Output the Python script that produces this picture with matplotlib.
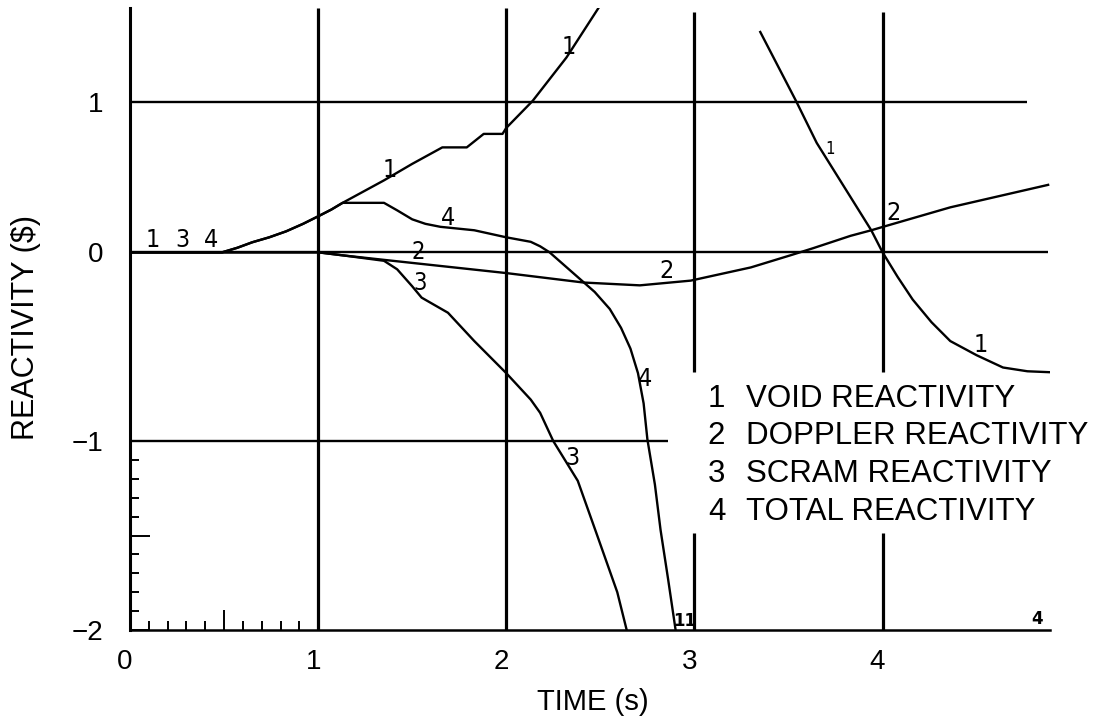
import numpy as np
import matplotlib
matplotlib.use("Agg")
import matplotlib.pyplot as plt
from matplotlib.transforms import ScaledTranslation

plt.rcParams['font.family'] = ['Liberation Sans', 'DejaVu Sans']

# curva 1: reactividad de vacio (dos tramos, sale por arriba y vuelve a entrar)
void_t1 = [0.0, 0.49, 0.57, 0.65, 0.74, 0.83, 0.92, 1.0, 1.07, 1.13, 1.35, 1.5, 1.66, 1.79, 1.88, 1.98, 2.0, 2.14, 2.32, 2.49]
void_r1 = [0.0, 0.0, 0.03, 0.067, 0.10, 0.14, 0.19, 0.24, 0.285, 0.33, 0.48, 0.59, 0.70, 0.70, 0.79, 0.79, 0.83, 1.01, 1.30, 1.63]
void_t2 = [3.35, 3.54, 3.65, 3.94, 4.0, 4.08, 4.16, 4.26, 4.36, 4.5, 4.64, 4.77, 4.89]
void_r2 = [1.47, 1.01, 0.73, 0.147, 0.0, -0.13, -0.25, -0.37, -0.47, -0.545, -0.61, -0.63, -0.635]

# curva 2: doppler
dop_t = [0.0, 1.0, 1.13, 1.35, 2.0, 2.41, 2.71, 2.98, 3.3, 3.51, 3.63, 3.83, 3.94, 4.03, 4.36, 4.88]
dop_r = [0.0, 0.0, -0.016, -0.04, -0.11, -0.16, -0.175, -0.15, -0.08, -0.016, 0.027, 0.11, 0.147, 0.18, 0.30, 0.45]

# curva 3: scram
scram_t = [0.0, 1.0, 1.13, 1.35, 1.42, 1.5, 1.55, 1.69, 1.83, 2.0, 2.13, 2.18, 2.25, 2.38, 2.48, 2.59, 2.64]
scram_r = [0.0, 0.0, -0.016, -0.045, -0.09, -0.18, -0.24, -0.32, -0.47, -0.64, -0.78, -0.85, -1.0, -1.21, -1.49, -1.80, -2.0]

# curva 4: total
tot_t = [0.0, 0.49, 0.57, 0.65, 0.74, 0.83, 0.92, 1.0, 1.07, 1.13, 1.35, 1.42, 1.5, 1.57, 1.65, 1.83, 2.0, 2.13,
         2.18, 2.23, 2.31, 2.39, 2.47, 2.55, 2.61, 2.66, 2.70, 2.73, 2.75, 2.79, 2.82, 2.86, 2.90]
tot_r = [0.0, 0.0, 0.03, 0.067, 0.10, 0.14, 0.19, 0.24, 0.285, 0.33, 0.33, 0.28, 0.22, 0.19, 0.17, 0.147, 0.10, 0.07,
         0.04, 0.0, -0.07, -0.14, -0.21, -0.30, -0.40, -0.51, -0.64, -0.80, -0.99, -1.23, -1.47, -1.73, -2.0]

# etiquetas sobre las curvas (texto, t, reactividad, tamano)
etiq_txt = ['1', '3', '4', '1', '1', '4', '2', '3', '2', '4', '3', '2', '1', '1']
etiq_t = [0.12, 0.28, 0.43, 1.38, 2.33, 1.69, 1.53, 1.54, 2.85, 2.74, 2.35, 4.06, 4.52, 3.72]
etiq_r = [0.08, 0.08, 0.08, 0.55, 1.37, 0.23, 0.0, -0.16, -0.10, -0.67, -1.09, 0.26, -0.49, 0.69]
etiq_fs = [18, 18, 18, 18, 18, 18, 17, 17, 18, 18, 18, 18, 18, 12]

# marcas pequenas junto al eje inferior
marca_txt = ['11', '4']
marca_t = [2.95, 4.82]
marca_r = [-1.95, -1.94]

leyenda_num = ['1', '2', '3', '4']
leyenda_txt = ['VOID REACTIVITY', 'DOPPLER REACTIVITY', 'SCRAM REACTIVITY', 'TOTAL REACTIVITY']

x_ticks = [0, 0.5, 1, 2, 3, 4]
x_labels = ['0', '', '1', '2', '3', '4']
y_ticks = [-2, -1.5, -1, 0, 1]
y_labels = ['\u22122', '', '\u22121', '0', '1']
x_minor = [0.1, 0.2, 0.3, 0.4, 0.6, 0.7, 0.8, 0.9]
y_minor = [-1.9, -1.8, -1.7, -1.6, -1.4, -1.3, -1.2, -1.1]

# la parte positiva del eje esta comprimida en el original
k = 150 / 189


def fwd(y):
    y = np.asarray(y, dtype=float)
    return np.where(y > 0, y * k, y)


def inv(v):
    v = np.asarray(v, dtype=float)
    return np.where(v > 0, v / k, v)


fig = plt.figure(figsize=(10.97, 7.24), dpi=100)
ax = fig.add_axes([130 / 1097, 1 - 630 / 724, 920 / 1097, 622 / 724])
ax.set_yscale('function', functions=(fwd, inv))
ax.set_xlim(0, 4.89)
ax.set_ylim(-2, 1.63)

# rejilla con cortes donde va la leyenda
ax.vlines([1, 2], -2, 1.63, color='k', lw=2.3)
ax.vlines([3, 4], -2, -1.487, color='k', lw=2.3)
ax.vlines([3, 4], -0.635, 1.6, color='k', lw=2.3)
ax.hlines(1, 0, 4.77, color='k', lw=1.7)
ax.hlines(0, 0, 4.88, color='k', lw=1.7)
ax.hlines(-1, 0, 2.86, color='k', lw=1.7)

estilo = dict(color='k', lw=1.7)
ax.plot(void_t1, void_r1, **estilo)
ax.plot(void_t2, void_r2, **estilo)
ax.plot(dop_t, dop_r, **estilo)
ax.plot(scram_t, scram_r, **estilo)
ax.plot(tot_t, tot_r, **estilo)

for txt, t, r, fs in zip(etiq_txt, etiq_t, etiq_r, etiq_fs):
    ax.text(t, r, txt, ha='center', va='center', fontsize=fs,
            family='DejaVu Sans', fontstretch='condensed')
for txt, t, r in zip(marca_txt, marca_t, marca_r):
    ax.text(t, r, txt, ha='center', va='center', fontsize=12,
            family='DejaVu Sans', fontweight='bold')

for i, (n, s) in enumerate(zip(leyenda_num, leyenda_txt)):
    yy = 0.372 - i * 0.0605
    ax.text(0.628, yy, n, transform=ax.transAxes, fontsize=22.5, va='center', ha='left')
    ax.text(0.670, yy, s, transform=ax.transAxes, fontsize=22.5, va='center', ha='left')

ax.spines['top'].set_visible(False)
ax.spines['right'].set_visible(False)
ax.spines['left'].set_linewidth(2.2)
ax.spines['bottom'].set_linewidth(1.8)

ax.set_xticks(x_ticks)
ax.set_xticklabels(x_labels)
ax.set_yticks(y_ticks)
ax.set_yticklabels(y_labels)
ax.set_xticks(x_minor, minor=True)
ax.set_yticks(y_minor, minor=True)
ax.tick_params(which='major', direction='in', length=14.5, width=1.4, labelsize=20)
ax.tick_params(axis='x', which='major', pad=14)
ax.tick_params(axis='y', which='major', pad=19)
ax.tick_params(which='minor', direction='in', length=6.5, width=1.4)

# en el original los numeros del eje x quedan un poco a la izquierda
desplaza = ScaledTranslation(-5 / 100, 0, fig.dpi_scale_trans)
for lab in ax.get_xticklabels():
    lab.set_transform(lab.get_transform() + desplaza)

ax.set_xlabel('TIME (s)', fontsize=21)
ax.set_ylabel('REACTIVITY ($)', fontsize=22)
ax.xaxis.set_label_coords(0.503, -0.093)
ax.yaxis.set_label_coords(-0.097, 0.487)

fig.savefig('out.png', dpi=100)
